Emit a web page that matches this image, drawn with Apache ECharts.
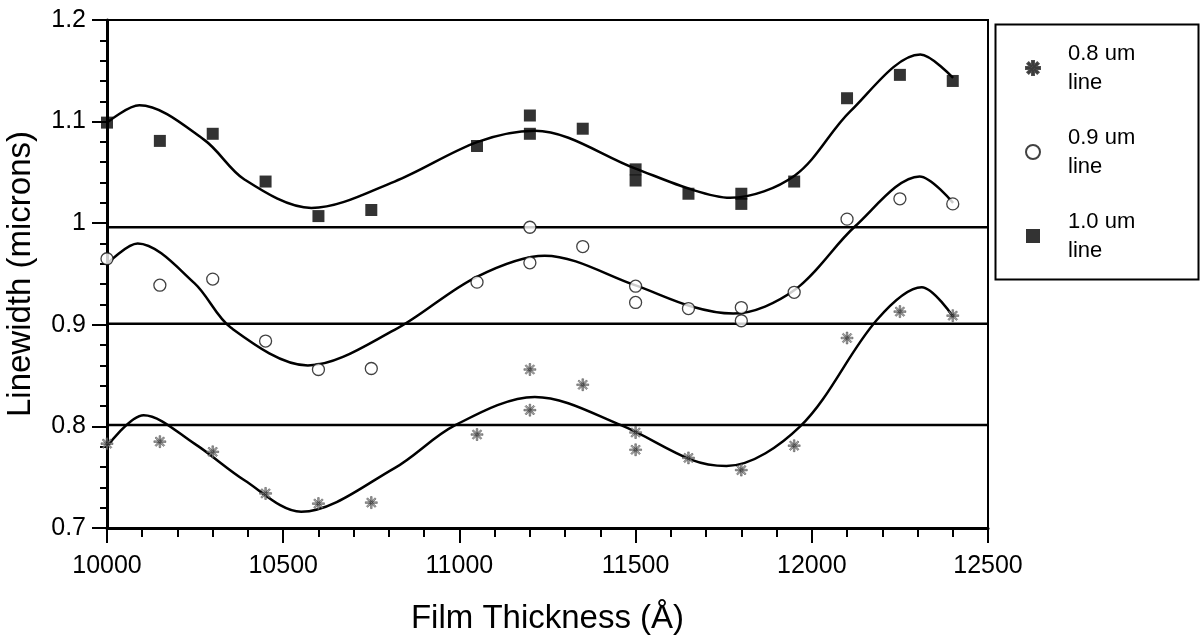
<!DOCTYPE html>
<html>
<head>
<meta charset="utf-8">
<script src="https://cdn.jsdelivr.net/npm/echarts@6/dist/echarts.min.js"></script>
<style>
html,body{margin:0;padding:0;background:#fff;}
#chart{width:1204px;height:641px;}
</style>
</head>
<body>
<div id="chart"></div>
<script>
// ---- data ----
const pts08 = [
  [10000,0.783],[10150,0.785],[10300,0.775],[10450,0.734],[10600,0.724],[10750,0.725],
  [11050,0.792],[11200,0.856],[11200,0.816],[11350,0.841],[11500,0.794],[11500,0.777],
  [11650,0.769],[11800,0.757],[11950,0.781],[12100,0.887],[12250,0.913],[12400,0.909]
];
const pts09 = [
  [10000,0.965],[10150,0.939],[10300,0.945],[10450,0.884],[10600,0.856],[10750,0.857],
  [11050,0.942],[11200,0.996],[11200,0.961],[11350,0.977],[11500,0.938],[11500,0.922],
  [11650,0.916],[11800,0.917],[11800,0.904],[11950,0.932],[12100,1.004],[12250,1.024],[12400,1.019]
];
const pts10 = [
  [10000,1.099],[10150,1.081],[10300,1.088],[10450,1.041],[10600,1.007],[10750,1.013],
  [11050,1.076],[11200,1.106],[11200,1.088],[11350,1.093],[11500,1.053],[11500,1.042],
  [11650,1.029],[11800,1.029],[11800,1.019],[11950,1.041],[12100,1.123],[12250,1.146],[12400,1.140]
];
// fitted curves
const fit08 = [
  [10000,0.780],[10104,0.811],[10248,0.783],[10390,0.747],[10551,0.716],[10816,0.759],
  [10987,0.801],[11214,0.829],[11460,0.801],[11659,0.767],[11758,0.761],[11967,0.800],
  [12185,0.905],[12312,0.937],[12401,0.908]
];
const fit09 = [
  [10000,0.960],[10087,0.980],[10248,0.941],[10352,0.897],[10570,0.860],[10816,0.895],
  [11048,0.947],[11242,0.968],[11498,0.939],[11659,0.918],[11777,0.911],[11950,0.934],
  [12123,0.997],[12306,1.046],[12401,1.020]
];
const fit10 = [
  [10000,1.099],[10092,1.116],[10276,1.082],[10390,1.043],[10580,1.015],[10816,1.041],
  [11052,1.080],[11214,1.091],[11498,1.054],[11660,1.033],[11768,1.025],[11952,1.047],
  [12109,1.110],[12308,1.166],[12401,1.143]
];
const refLevels = [0.996, 0.901, 0.8015];
const xRange = [10000, 12500];
const legendNames = ['0.8 um line','0.9 um line','1.0 um line'];

const FONT = '"Liberation Sans", Arial, sans-serif';
const asterisk = 'path://M-0.7,-5 L0.7,-5 L0.7,5 L-0.7,5 Z M-5,-0.7 L5,-0.7 L5,0.7 L-5,0.7 Z M3.041,4.031 L4.031,3.041 L-3.041,-4.031 L-4.031,-3.041 Z M-3.041,4.031 L-4.031,3.041 L3.041,-4.031 L4.031,-3.041 Z';

const chart = echarts.init(document.getElementById('chart'), null, {renderer:'canvas'});

function fitSeries(data){
  return {type:'line', data:data, smooth:0.33, showSymbol:false, symbol:'none',
    lineStyle:{color:'#000', width:2.5}, silent:true, z:2};
}
function refSeries(v){
  return {type:'line', data:[[xRange[0],v],[xRange[1],v]], symbol:'none',
    lineStyle:{color:'#000', width:2.5}, silent:true, z:1};
}

const option = {
  animation:false,
  backgroundColor:'#fff',
  grid:{left:107, right:216, top:20, bottom:113, containLabel:false, outerBoundsMode:'none',
    show:true, borderColor:'#000', borderWidth:2, backgroundColor:'transparent'},
  xAxis:{
    type:'value', min:xRange[0], max:xRange[1], interval:500,
    name:'Film Thickness (Å)', nameLocation:'middle', nameGap:74,
    nameTextStyle:{fontFamily:FONT, fontSize:33, color:'#000'},
    axisLine:{show:true, onZero:false, lineStyle:{color:'#000', width:3}},
    axisTick:{show:true, inside:false, length:15, lineStyle:{color:'#000', width:2}},
    minorTick:{show:true, splitNumber:5, length:9, lineStyle:{color:'#000', width:2}},
    axisLabel:{fontFamily:FONT, fontSize:25, color:'#000', margin:26,
      formatter:function(v){ return String(v); }},
    splitLine:{show:false}
  },
  yAxis:{
    type:'value', min:0.7, max:1.2, interval:0.1,
    name:'Linewidth (microns)', nameLocation:'middle', nameGap:70,
    nameTextStyle:{fontFamily:FONT, fontSize:33, color:'#000'},
    axisLine:{show:true, onZero:false, lineStyle:{color:'#000', width:3}},
    axisTick:{show:true, inside:false, length:15, lineStyle:{color:'#000', width:2}},
    minorTick:{show:true, splitNumber:5, length:7, lineStyle:{color:'#000', width:2}},
    axisLabel:{fontFamily:FONT, fontSize:25, color:'#000', margin:21,
      formatter:function(v){ return String(Math.round(v*10)/10); }},
    splitLine:{show:false}
  },
  legend:{
    orient:'vertical', left:1020, top:34, itemWidth:14, itemHeight:14, itemGap:26,
    data:legendNames, selectedMode:false,
    formatter:function(n){ return n.replace(' line','\nline'); },
    textStyle:{fontFamily:FONT, fontSize:22, color:'#000', lineHeight:29, padding:[0,0,0,23]}
  },
  graphic:[{type:'rect', left:993, top:22, shape:{width:203, height:255},
    style:{fill:'none', stroke:'#000', lineWidth:2}, silent:true}],
  series:[
    refSeries(refLevels[0]), refSeries(refLevels[1]), refSeries(refLevels[2]),
    fitSeries(fit08), fitSeries(fit09), fitSeries(fit10),
    {name:legendNames[0], type:'scatter', data:pts08, symbol:asterisk, symbolSize:12,
      itemStyle:{color:'#8a8a8a', borderColor:'#222', borderWidth:0.5}, z:3},
    {name:legendNames[1], type:'scatter', data:pts09, symbol:'circle', symbolSize:12,
      itemStyle:{color:'#fff', borderColor:'#111', borderWidth:1.3}, z:3},
    {name:legendNames[2], type:'scatter', data:pts10, symbol:'rect', symbolSize:12,
      itemStyle:{color:'#000'}, z:3}
  ]
};
chart.setOption(option);
</script>
</body>
</html>
